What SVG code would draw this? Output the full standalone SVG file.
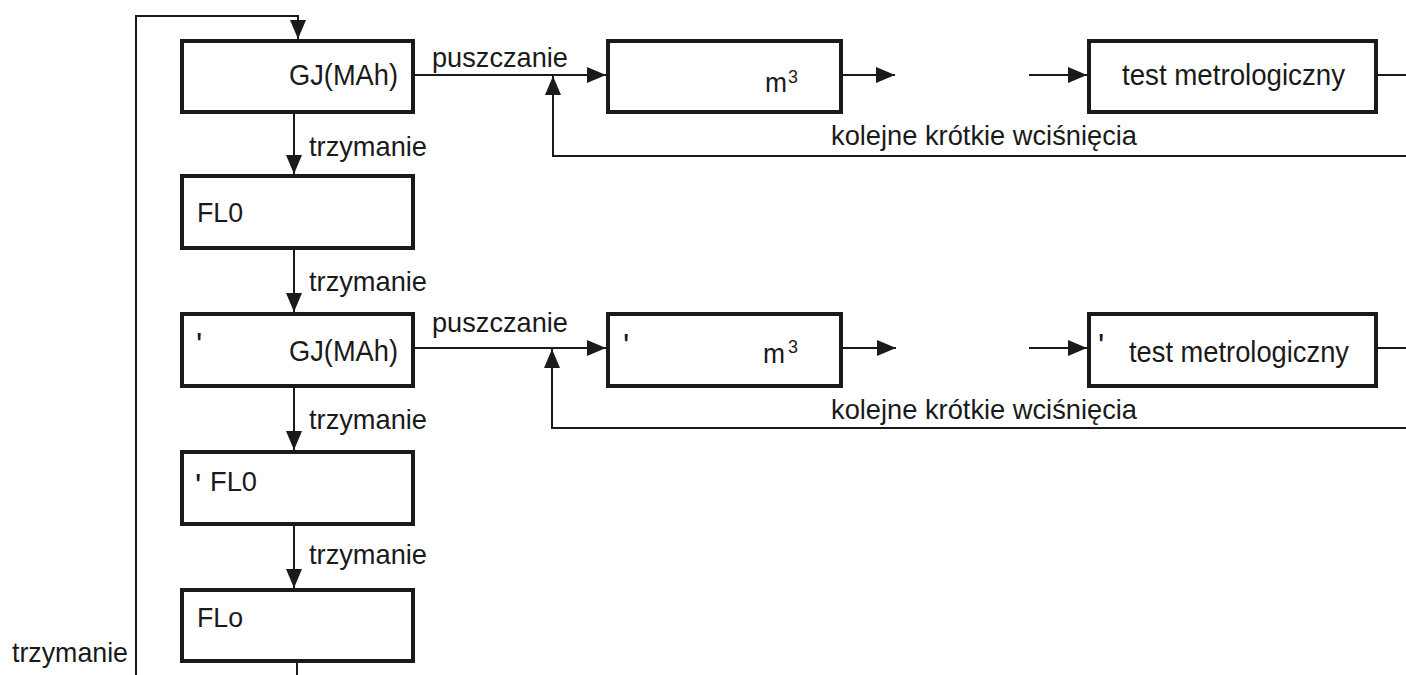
<svg xmlns="http://www.w3.org/2000/svg" width="1406" height="675" viewBox="0 0 1406 675">
<defs>
<marker id="ah" markerUnits="userSpaceOnUse" markerWidth="20" markerHeight="17" refX="19" refY="8" orient="auto">
<path d="M0,0 L19,8 L0,16 z" fill="#1a1a1a"/>
</marker>
<style>
.box{fill:#fff;stroke:#1a1a1a;stroke-width:4}
.ln{fill:none;stroke:#1a1a1a;stroke-width:2}
.ar{fill:none;stroke:#1a1a1a;stroke-width:2;marker-end:url(#ah)}
text{font-family:"Liberation Sans",Arial,Helvetica,sans-serif;fill:#1a1a1a;font-size:28px}
.big{font-size:30px}
.ap{font-size:33px}
.sup{font-size:19px}
</style>
</defs>
<rect width="1406" height="675" fill="#fff"/>
<g id="connectors">
<path class="ln" d="M136,675 L136,16 L298,16 L298,30"/>
<path class="ar" d="M298,20 L298,39"/>
<path class="ln" d="M297,663 L297,675"/>
<path class="ar" d="M294,114 L294,174"/>
<path class="ar" d="M294,250 L294,312"/>
<path class="ar" d="M294,388 L294,450"/>
<path class="ar" d="M294,526 L294,588"/>
<path class="ar" d="M415,75 L606,75"/>
<path class="ar" d="M843,75 L895,75"/>
<path class="ar" d="M1029,75 L1087,75"/>
<path class="ln" d="M1378,75 L1406,75"/>
<path class="ar" d="M1406,156 L553,156 L553,76"/>
<path class="ar" d="M415,348 L606,348"/>
<path class="ar" d="M842,348 L896,348"/>
<path class="ar" d="M1029,348 L1087,348"/>
<path class="ln" d="M1378,348 L1406,348"/>
<path class="ar" d="M1406,428 L552,428 L552,349"/>
</g>
<g id="labels">
<text x="432" y="67" textLength="136" lengthAdjust="spacingAndGlyphs">puszczanie</text>
<text x="432" y="332" textLength="136" lengthAdjust="spacingAndGlyphs">puszczanie</text>
<text x="309" y="156" textLength="118" lengthAdjust="spacingAndGlyphs">trzymanie</text>
<text x="309" y="291" textLength="118" lengthAdjust="spacingAndGlyphs">trzymanie</text>
<text x="309" y="429" textLength="118" lengthAdjust="spacingAndGlyphs">trzymanie</text>
<text x="309" y="564" textLength="118" lengthAdjust="spacingAndGlyphs">trzymanie</text>
<text x="12" y="662" textLength="116" lengthAdjust="spacingAndGlyphs">trzymanie</text>
<text x="831" y="145" textLength="306" lengthAdjust="spacingAndGlyphs">kolejne krótkie wciśnięcia</text>
<text x="831" y="419" textLength="306" lengthAdjust="spacingAndGlyphs">kolejne krótkie wciśnięcia</text>
</g>
<g id="node-gj">
<rect class="box" x="182" y="41" width="231" height="71"/>
<text class="big" x="289" y="85" textLength="109" lengthAdjust="spacingAndGlyphs">GJ(MAh)</text>
</g>
<g id="node-fl0">
<rect class="box" x="182" y="176" width="231" height="72"/>
<text x="197" y="222" textLength="46" lengthAdjust="spacingAndGlyphs">FL0</text>
</g>
<g id="node-gj2">
<rect class="box" x="182" y="314" width="231" height="72"/>
<text class="ap" x="196" y="356">'</text>
<text class="big" x="289" y="361" textLength="109" lengthAdjust="spacingAndGlyphs">GJ(MAh)</text>
</g>
<g id="node-fl0b">
<rect class="box" x="182" y="452" width="231" height="72"/>
<text class="ap" x="195" y="497">'</text>
<text x="210" y="491" textLength="47" lengthAdjust="spacingAndGlyphs">FL0</text>
</g>
<g id="node-flo">
<rect class="box" x="182" y="590" width="231" height="71"/>
<text x="197" y="627" textLength="46" lengthAdjust="spacingAndGlyphs">FLo</text>
</g>
<g id="node-m3">
<rect class="box" x="608" y="41" width="233" height="71"/>
<text x="765" y="92" textLength="22" lengthAdjust="spacingAndGlyphs">m</text>
<text class="sup" x="788" y="83" textLength="10" lengthAdjust="spacingAndGlyphs">3</text>
</g>
<g id="node-test">
<rect class="box" x="1089" y="41" width="287" height="71"/>
<text class="big" x="1122" y="85" textLength="223" lengthAdjust="spacingAndGlyphs">test metrologiczny</text>
</g>
<g id="node-m3b">
<rect class="box" x="608" y="314" width="233" height="72"/>
<text class="ap" x="623" y="357">'</text>
<text x="763" y="363" textLength="22" lengthAdjust="spacingAndGlyphs">m</text>
<text class="sup" x="788" y="353" textLength="10" lengthAdjust="spacingAndGlyphs">3</text>
</g>
<g id="node-testb">
<rect class="box" x="1089" y="314" width="287" height="72"/>
<text class="ap" x="1098" y="357">'</text>
<text class="big" x="1129" y="362" textLength="220" lengthAdjust="spacingAndGlyphs">test metrologiczny</text>
</g>
</svg>
